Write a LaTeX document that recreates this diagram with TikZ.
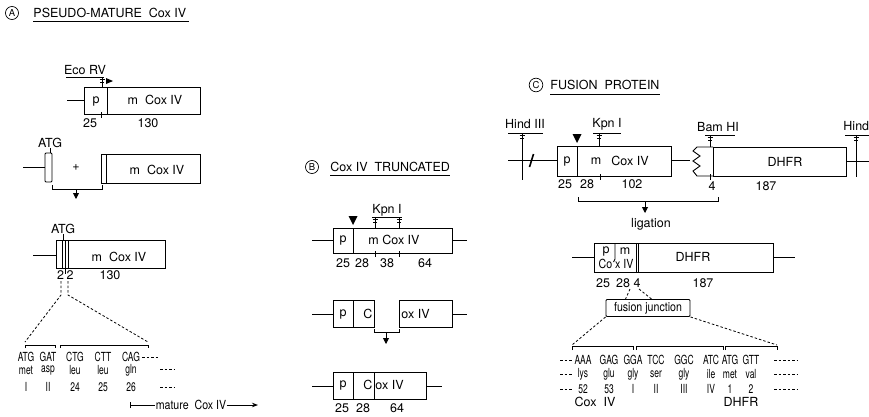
\documentclass[tikz,border=0pt]{standalone}
\usepackage{fontspec}
\setmainfont{TeX Gyre Heros}
\newfontfamily\seqfont{TeX Gyre Heros}[FakeStretch=0.68]
\newfontfamily\narrowfont{TeX Gyre Heros}[FakeStretch=0.85]
\usetikzlibrary{arrows.meta, calc}

\tikzset{
  lbl/.style={font=\fontsize{12.5}{13}\selectfont, inner sep=0pt},
  seq/.style={font=\seqfont\fontsize{12.5}{13}\selectfont, inner sep=0pt},
  nlbl/.style={font=\narrowfont\fontsize{12.5}{13}\selectfont, inner sep=0pt},
  tag/.style={circle, draw, line width=0.7pt, inner sep=1.3pt, font=\fontsize{9.5}{10}\selectfont},
  dots/.style={dash pattern=on 2.5pt off 2pt, line width=0.8pt},
  downarrow/.style={-{Triangle[length=6pt,width=6pt]}},
}
% restriction site mark: x, top, bottom
\newcommand{\cutmark}[3]{%
  \draw (#1,#2) -- (#1,#3);
  \draw (#1-2.5,#2+2.5) -- (#1+2.5,#2+2.5);
  \draw (#1-2,#2+5) -- (#1+2,#2+5);
}
% bracket joining two pieces: x1, x2, y of ends, y of bar
\newcommand{\joinbar}[4]{\draw (#1,#3) -- (#1,#4) -- (#2,#4) -- (#2,#3);}

\begin{document}
\begin{tikzpicture}[x=1pt, y=-1pt, line width=0.9pt]
    \useasboundingbox (0,0) rectangle (869,416);
    \clip (0,0) rectangle (869,416);

    % ---------------- Panel A ----------------
    \node[tag] (tagA) at (12,13) {A};
    \node[lbl, anchor=west] (titleA) at (33,13) {PSEUDO-MATURE\ \ Cox IV};
    \draw ($(titleA.south west)+(0,3)$) -- ($(titleA.south east)+(2,3)$);

    % promoter construct
    \draw (67,100) -- (84,100);
    \draw (84,87) rectangle (200,114);
    \draw (107,87) -- (107,114);
    \node[lbl] (pA) at (96,101) {p};
    \node[lbl] (mA) at (155,100) {m\ \ Cox IV};
    \draw (101,112) -- (101,118);
    \node[lbl] (nA25) at (90,123) {25};
    \node[lbl] (nA130) at (148,123) {130};
    \node[lbl] (ecorv) at (85,70) {Eco RV};
    \draw (66,77) -- (104,77);
    \cutmark{102}{77}{87}
    \fill (106,78) -- (113,81) -- (106,84) -- cycle;

    % ATG piece + m Cox IV
    \node[lbl] (atgA) at (50,143) {ATG};
    \draw (atgA.south) -- (50,153);
    \draw[rounded corners=1pt] (45,153) rectangle (52,182);
    \draw (23,167) -- (45,167);
    \node[lbl] (plus) at (76,168) {+};
    \draw (101,154) rectangle (200,183);
    \draw (106,154) -- (106,183);
    \node[lbl] (mA2) at (157,170) {m\ \ Cox IV};
    \joinbar{52}{102}{185}{189}
    \draw[downarrow] (76,189) -- (76,199);

    % pseudo-mature construct
    \node[lbl] (atgB) at (63,229) {ATG};
    \draw (atgB.south) -- (63,240);
    \draw (33,255) -- (56,255);
    \draw (56,240) rectangle (165,268);
    \draw (62,240) -- (62,268);
    \draw (65,240) -- (65,274);
    \draw (68,240) -- (68,268);
    \node[lbl] (mA3) at (119,257) {m\ \ Cox IV};
    \node[lbl] (nA2a) at (60.5,275) {2};
    \node[lbl] (nA2b) at (70,275) {2};
    \node[lbl] (nA130b) at (110,275) {130};
    \draw[dots] (61,281) -- (61,295) -- (25,342);
    \draw[dots] (68,281) -- (68,295) -- (148,342);
    \joinbar{25}{55}{348}{345}
    \joinbar{60}{148}{348}{345}

    % sequence
    \foreach \x/\c/\a/\n in {26/ATG/met/I, 48/GAT/asp/II, 75/CTG/leu/24, 103/CTT/leu/25, 131/CAG/gln/26}{
      \node[seq] (c\x) at (\x,357) {\c};
      \node[seq] (a\x) at (\x,370.5) {\a};
      \node[seq] (n\x) at (\x,387) {\n};
    }
    \draw[dots] (142,357) -- (158,357);
    \draw[dots] (160,369) -- (175,369);
    \draw[dots] (160,387) -- (175,387);
    \node[nlbl] (mature) at (191,405) {mature\ \ Cox IV};
    \draw[{Bar[width=6pt]}-] (130,405) -- (mature.west);
    \draw[-{Stealth[length=6pt]}] (mature.east) -- (258,405);

    % ---------------- Panel B ----------------
    \node[tag] (tagB) at (312,167) {B};
    \node[lbl, anchor=west] (titleB) at (330,167) {Cox IV\ \ TRUNCATED};
    \draw ($(titleB.south west)+(0,3)$) -- ($(titleB.south east)+(0,3)$);

    % full construct
    \draw (312,240) -- (333,240);
    \draw (333,228) rectangle (452,253);
    \draw (353,228) -- (353,253);
    \draw (452,240) -- (467,240);
    \fill (348.5,216) -- (357.5,216) -- (353,225) -- cycle;
    \node[lbl] (pB) at (343,240) {p};
    \node[lbl] (mB) at (394,240) {m Cox IV};
    \node[lbl] (kpnB) at (387,210) {Kpn I};
    \draw (372,217) -- (402,217);
    \cutmark{375}{217}{228}
    \cutmark{399}{217}{228}
    \draw (375,251) -- (375,257);
    \draw (399,251) -- (399,257);
    \foreach \x/\n in {343/25, 362/28, 387/38, 425/64}
      \node[lbl] (nB\n) at (\x,263) {\n};

    % cut pieces
    \draw (312,314) -- (333,314);
    \draw (333,300) rectangle (374,327);
    \draw (353,300) -- (353,327);
    \node[lbl] (pB2) at (343,314) {p};
    \node[lbl] (cB2) at (368,314) {C};
    \draw (399,300) rectangle (452,327);
    \node[lbl, anchor=west] (oxB2) at (401,314) {ox IV};
    \draw (452,314) -- (467,314);
    \joinbar{374}{399}{329}{332}
    \draw[downarrow] (386,332) -- (386,344);

    % truncated construct
    \draw (312,386) -- (333,386);
    \draw (333,372) rectangle (426,399);
    \draw (353,372) -- (353,399);
    \draw (374,372) -- (374,399);
    \draw (426,386) -- (442,386);
    \node[lbl] (pB3) at (343,385) {p};
    \node[lbl] (cB3) at (368,385) {C};
    \node[lbl, anchor=west] (oxB3) at (375,385) {ox IV};
    \foreach \x/\n in {342/25, 363/28, 397/64}
      \node[lbl] (nBt\n) at (\x,408) {\n};

    % ---------------- Panel C ----------------
    \node[tag] (tagC) at (536,85) {C};
    \node[lbl, anchor=west] (titleC) at (550,85) {FUSION\ \ PROTEIN};
    \draw ($(titleC.south west)+(0,4)$) -- ($(titleC.south east)+(0,4)$);

    % Cox IV part
    \draw (508,160) -- (557,160);
    \node[lbl] (hindL) at (525,124) {Hind III};
    \draw (508,133) -- (543,133);
    \cutmark{522}{133}{180}
    \draw[line width=1.6pt] (529.5,167) -- (533.5,154);
    \draw (557,146) rectangle (671,176);
    \draw (577,146) -- (577,176);
    \fill (572.5,134) -- (581.5,134) -- (577,143) -- cycle;
    \node[lbl] (kpnC) at (607,124) {Kpn I};
    \draw (593,133) -- (621,133);
    \cutmark{599}{133}{146}
    \node[lbl] (pC) at (567,161) {p};
    \node[lbl] (mC) at (596,161) {m};
    \node[lbl] (coxC) at (630,161) {Cox IV};
    \draw (600,174) -- (600,180);
    \foreach \x/\n in {565/25, 587/28, 632/102}
      \node[lbl] (nC\n) at (\x,184) {\n};
    \draw (671,160) -- (690,160);

    % DHFR part
    \draw (713,147) -- (697,147) -- (693,151) -- (700,156) -- (693,161) -- (700,166) -- (693,171) -- (697,176) -- (713,176);
    \draw (713,147) rectangle (846,176);
    \node[lbl] (bam) at (718,127) {Bam HI};
    \draw (705,135) -- (735,135);
    \cutmark{710}{135}{147}
    \draw (710,174) -- (710,180);
    \node[lbl] (nC4) at (712,186) {4};
    \node[lbl] (nC187) at (766,186) {187};
    \node[lbl] (dhfrC) at (785,162) {DHFR};
    \draw (846,161) -- (869,161);
    \node[lbl, anchor=west] (hindR) at (843,126) {Hind III};
    \draw (845,135) -- (869,135);
    \cutmark{856}{135}{177}

    \joinbar{578}{718}{197}{201}
    \draw[downarrow] (645,201) -- (645,213);
    \node[lbl] (lig) at (651,224) {ligation};

    % fused construct
    \draw (572,257) -- (594,257);
    \draw (594,243) rectangle (773,272);
    \draw (615,243) -- (615,259) -- (613.5,262);
    \draw (636,243) -- (636,272);
    \draw (638.5,243) -- (638.5,272);
    \node[lbl] (pF) at (606,251) {p};
    \node[lbl] (mF) at (625,251) {m};
    \node[nlbl] (coxF) at (616,264) {Co x IV};
    \node[lbl] (dhfrF) at (693,257) {DHFR};
    \draw (773,257) -- (795,257);
    \foreach \x/\n in {603/25, 623/28, 637/4, 703/187}
      \node[lbl] (nF\n) at (\x,283) {\n};

    % fusion junction
    \node[nlbl, draw, rounded corners=1pt, minimum width=84pt, minimum height=17pt] (fj) at (648,308) {fusion junction};
    \draw[dots] (630,289) -- ($(fj.north west)+(20,0)$);
    \draw[dots] (639,289) -- ($(fj.north west)+(46,0)$);
    \draw[dots] (fj.south west) -- (572,345);
    \draw[dots] (fj.south east) -- (777,345);
    \joinbar{572}{633}{350}{346}
    \joinbar{636}{723}{350}{346}
    \joinbar{725}{777}{350}{346}

    % sequence
    \foreach \x/\c/\a/\n in {583/AAA/lys/52, 609/GAG/glu/53, 633/GGA/gly/I, 656/TCC/ser/II, 684/GGC/gly/III, 711/ATC/ile/IV, 730/ATG/met/1, 751/GTT/val/2}{
      \node[seq] (f\x) at (\x,360) {\c};
      \node[seq] (g\x) at (\x,374) {\a};
      \node[seq] (h\x) at (\x,389) {\n};
    }
    \foreach \y in {360,374,389}{
      \draw[dots] (560,\y) -- (572,\y);
      \draw[dots] (774,\y) -- (798,\y);
    }
    \node[lbl] (coxS) at (595,402) {Cox\ \ IV};
    \node[lbl] (dhfrS) at (741,402) {DHFR};
\end{tikzpicture}
\end{document}
